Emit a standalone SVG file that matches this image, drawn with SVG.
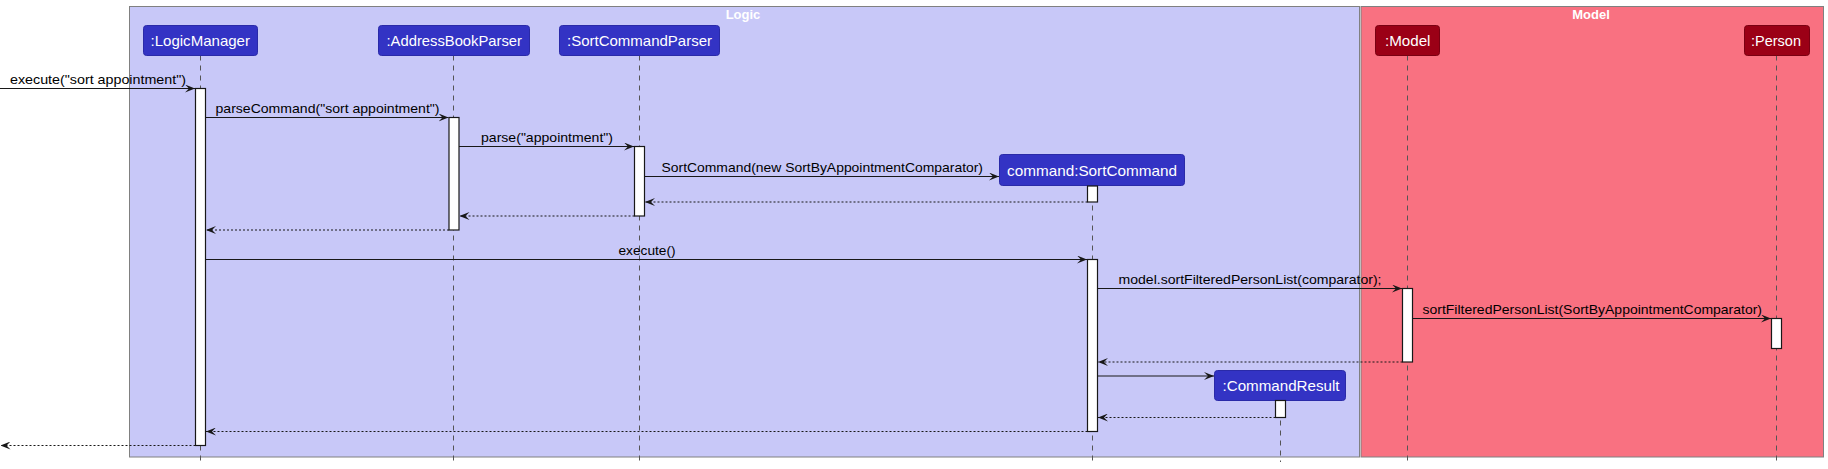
<svg xmlns="http://www.w3.org/2000/svg" width="1828" height="469" viewBox="0 0 1828 469">
<style>
.bg{fill:#ffffff}
.logicBox{fill:#C8C8F8;stroke:#808080;stroke-width:1}
.modelBox{fill:#F97181;stroke:#808080;stroke-width:1}
.boxTitle{font-family:"Liberation Sans",Arial,sans-serif;font-size:13px;font-weight:bold;fill:#ffffff;text-anchor:middle}
.pl{fill:#3333C4;stroke:#2A2AA8;stroke-width:1}
.pm{fill:#9B0016;stroke:#7A0012;stroke-width:1}
.pt{font-family:"Liberation Sans",Arial,sans-serif;font-size:15px;fill:#ffffff}
.life{stroke:#555555;stroke-width:1;stroke-dasharray:5,5;fill:none}
.act{fill:#ffffff;stroke:#181818;stroke-width:1.2}
.msg{stroke:#181818;stroke-width:1.2;fill:none}
.ret{stroke:#181818;stroke-width:1.2;fill:none;stroke-dasharray:2,2}
.ml{font-family:"Liberation Sans",Arial,sans-serif;font-size:13px;fill:#000000}
</style>
<defs>
<marker id="ah" viewBox="0 0 10 8" refX="10" refY="4" markerWidth="10" markerHeight="8" markerUnits="userSpaceOnUse" orient="auto">
<polygon points="0,0 10,4 0,8 4,4" fill="#181818"/>
</marker>
</defs>
<rect class="bg" x="0" y="0" width="1828" height="469"/>
<g id="box-logic">
<rect class="logicBox" x="129.5" y="6.5" width="1230" height="450.5"/>
<text class="boxTitle" x="743" y="19">Logic</text>
</g>
<g id="box-model">
<rect class="modelBox" x="1361" y="6.5" width="462.5" height="450.5"/>
<text class="boxTitle" x="1591" y="19">Model</text>
</g>
<g id="lifelines">
<line class="life" x1="200.5" y1="55.5" x2="200.5" y2="462"/>
<line class="life" x1="453.5" y1="55.5" x2="453.5" y2="462"/>
<line class="life" x1="639.5" y1="55.5" x2="639.5" y2="462"/>
<line class="life" x1="1092.5" y1="185.5" x2="1092.5" y2="462"/>
<line class="life" x1="1407.5" y1="55.5" x2="1407.5" y2="462"/>
<line class="life" x1="1776.5" y1="55.5" x2="1776.5" y2="462"/>
<line class="life" x1="1280.5" y1="400.5" x2="1280.5" y2="462"/>
</g>
<g id="p-logicmanager">
<rect class="pl" x="143.5" y="25.5" width="114" height="30" rx="3"/>
<text class="pt" x="150.5" y="46" textLength="99.5" lengthAdjust="spacingAndGlyphs">:LogicManager</text>
<rect class="act" x="195.5" y="88.5" width="10" height="357"/>
</g>
<g id="p-addressbookparser">
<rect class="pl" x="378.5" y="25.5" width="151" height="30" rx="3"/>
<text class="pt" x="386.5" y="46" textLength="135.5" lengthAdjust="spacingAndGlyphs">:AddressBookParser</text>
<rect class="act" x="449" y="117.5" width="10" height="112.5"/>
</g>
<g id="p-sortcommandparser">
<rect class="pl" x="559.5" y="25.5" width="160" height="30" rx="3"/>
<text class="pt" x="567" y="46" textLength="145" lengthAdjust="spacingAndGlyphs">:SortCommandParser</text>
<rect class="act" x="634.5" y="146.5" width="10" height="69.5"/>
</g>
<g id="p-sortcommand">
<rect class="pl" x="999.5" y="154.5" width="185" height="31" rx="3"/>
<text class="pt" x="1007" y="175.5" textLength="170" lengthAdjust="spacingAndGlyphs">command:SortCommand</text>
<rect class="act" x="1087.5" y="186" width="10" height="16"/>
<rect class="act" x="1087.5" y="259.5" width="10" height="172"/>
</g>
<g id="p-commandresult">
<rect class="pl" x="1214.5" y="370.5" width="131" height="30" rx="3"/>
<text class="pt" x="1222.5" y="391" textLength="117" lengthAdjust="spacingAndGlyphs">:CommandResult</text>
<rect class="act" x="1275.5" y="400.5" width="10" height="17"/>
</g>
<g id="p-model">
<rect class="pm" x="1375.5" y="25.5" width="64" height="30" rx="3"/>
<text class="pt" x="1385" y="46" textLength="45.5" lengthAdjust="spacingAndGlyphs">:Model</text>
<rect class="act" x="1402.5" y="288.5" width="10" height="73.5"/>
</g>
<g id="p-person">
<rect class="pm" x="1744.5" y="25.5" width="65" height="30" rx="3"/>
<text class="pt" x="1751" y="46" textLength="50" lengthAdjust="spacingAndGlyphs">:Person</text>
<rect class="act" x="1771.5" y="318.5" width="10" height="30"/>
</g>
<g id="connectors">
<line class="msg" x1="0" y1="88.5" x2="195" y2="88.5" marker-end="url(#ah)"/>
<text class="ml" x="10" y="83.5" textLength="176" lengthAdjust="spacingAndGlyphs">execute("sort appointment")</text>
<line class="msg" x1="205.5" y1="117.5" x2="448.5" y2="117.5" marker-end="url(#ah)"/>
<text class="ml" x="215.5" y="112.5" textLength="224" lengthAdjust="spacingAndGlyphs">parseCommand("sort appointment")</text>
<line class="msg" x1="459" y1="146.5" x2="634" y2="146.5" marker-end="url(#ah)"/>
<text class="ml" x="481" y="141.5" textLength="132" lengthAdjust="spacingAndGlyphs">parse("appointment")</text>
<line class="msg" x1="644.5" y1="176.5" x2="999" y2="176.5" marker-end="url(#ah)"/>
<text class="ml" x="661.5" y="171.5" textLength="321.5" lengthAdjust="spacingAndGlyphs">SortCommand(new SortByAppointmentComparator)</text>
<line class="ret" x1="1087.5" y1="202" x2="645" y2="202" marker-end="url(#ah)"/>
<line class="ret" x1="634.5" y1="216" x2="459.5" y2="216" marker-end="url(#ah)"/>
<line class="ret" x1="449" y1="230" x2="206" y2="230" marker-end="url(#ah)"/>
<line class="msg" x1="205.5" y1="259.5" x2="1087" y2="259.5" marker-end="url(#ah)"/>
<text class="ml" x="618.5" y="254.5" textLength="57" lengthAdjust="spacingAndGlyphs">execute()</text>
<line class="msg" x1="1097.5" y1="288.5" x2="1402" y2="288.5" marker-end="url(#ah)"/>
<text class="ml" x="1118.5" y="283.5" textLength="263" lengthAdjust="spacingAndGlyphs">model.sortFilteredPersonList(comparator);</text>
<line class="msg" x1="1412.5" y1="318.5" x2="1771" y2="318.5" marker-end="url(#ah)"/>
<text class="ml" x="1422.5" y="313.5" textLength="339.5" lengthAdjust="spacingAndGlyphs">sortFilteredPersonList(SortByAppointmentComparator)</text>
<line class="ret" x1="1402.5" y1="362" x2="1098" y2="362" marker-end="url(#ah)"/>
<line class="msg" x1="1097.5" y1="376" x2="1214" y2="376" marker-end="url(#ah)"/>
<line class="ret" x1="1275.5" y1="417.5" x2="1098" y2="417.5" marker-end="url(#ah)"/>
<line class="ret" x1="1087.5" y1="431.5" x2="206" y2="431.5" marker-end="url(#ah)"/>
<line class="ret" x1="195.5" y1="445.5" x2="0.5" y2="445.5" marker-end="url(#ah)"/>
</g>
</svg>
